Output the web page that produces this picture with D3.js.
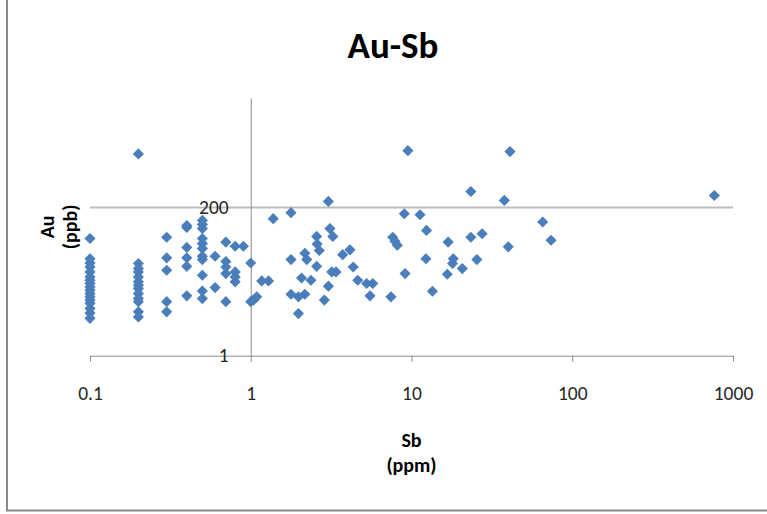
<!DOCTYPE html>
<html>
<head>
<meta charset="utf-8">
<script src="https://cdn.jsdelivr.net/npm/d3@7"></script>
<style>
  body { margin: 0; background: #fff; }
  svg { display: block; }
</style>
</head>
<body>
<div id="chart"></div>
<script>
// Sb (ppm) values, one entry per sample
const sb = [
  0.1, 0.1, 0.1, 0.1, 0.1, 0.1, 0.1, 0.1, 0.1, 0.1, 0.1, 0.1, 0.1, 0.1, 0.1, 0.1, 0.1,
  0.2, 0.2, 0.2, 0.2, 0.2, 0.2, 0.2, 0.2, 0.2, 0.2, 0.2, 0.2, 0.2,
  0.3, 0.3, 0.3, 0.3, 0.3,
  0.4, 0.4, 0.4, 0.4, 0.4, 0.4,
  0.5, 0.5, 0.5, 0.5, 0.5, 0.5, 0.5, 0.5, 0.5, 0.5, 0.5,
  0.6, 0.6,
  0.7, 0.7, 0.7, 0.7, 0.7,
  0.8, 0.8, 0.8, 0.8,
  0.9, 1.0, 1.0, 1.04, 1.09, 1.17, 1.29, 1.38,
  1.78, 1.78, 1.78, 1.98, 1.98, 2.07, 2.17, 2.17, 2.23, 2.37,
  2.57, 2.57, 2.59, 2.67, 2.87, 3.04, 3.04, 3.11, 3.19, 3.24, 3.39,
  3.73, 4.14, 4.34, 4.63, 5.26, 5.52, 5.74,
  7.45, 7.64, 7.89, 8.16, 9.02, 9.12, 9.5,
  11.3, 12.4, 12.3, 13.5, 16.9, 16.7, 18.2, 18.0, 20.7,
  23.4, 23.4, 25.5, 27.5, 37.8, 40, 41, 65.5, 73.8, 765
];

// Au (ppb) values, same order as sb
const au = [
  66, 32, 27.5, 23.8, 20, 16.7, 14.8, 13.2, 11.7, 10.4, 9.2, 8.2, 7.3, 6.5, 5.4, 4.6, 3.8,
  1356, 27, 22.5, 20, 16.7, 14, 12.4, 11, 9.2, 7.7, 6.9, 4.8, 4.0,
  69, 33, 21.2, 6.9, 4.8,
  105, 98, 48, 33, 24.4, 8.5,
  126, 109, 94, 66, 55, 46, 35, 31, 17.7, 10.1, 7.7,
  35, 11.4,
  58, 29, 23.8, 18.8, 6.9,
  50, 20, 16.7, 14,
  50, 27.5, 6.9, 7.3, 8.2, 14.5, 14.5, 134,
  166, 31, 9, 8.2, 4.5, 16.1, 9, 39, 31, 14.8,
  71, 24.4, 54, 43, 7.3, 248, 12, 94, 20, 71, 20,
  37, 44, 23.8, 14.8, 13.2, 8.5, 13.2,
  8.2, 69, 60, 52, 160, 18.8, 1524,
  154, 88, 32, 10, 58, 18.4, 32, 27, 22.5,
  354, 69, 31, 78, 257, 49, 1473, 119, 62, 307
];

const xTicks = [0.1, 1, 10, 100, 1000];
const yTicks = [1, 200];

const width = 767, height = 514;
const plotLeft = 90, plotRight = 733, plotTop = 98, plotBottom = 355.7;
const font = "Carlito, Lato, sans-serif";

const svg = d3.select("#chart").append("svg")
  .attr("width", width)
  .attr("height", height);

// bordo del grafico (solo sinistra e sotto)
svg.append("line")
  .attr("x1", 7).attr("y1", 0).attr("x2", 7).attr("y2", 511)
  .attr("stroke", "#8a8a8a").attr("stroke-width", 2);
svg.append("line")
  .attr("x1", 6).attr("y1", 510.5).attr("x2", width).attr("y2", 510.5)
  .attr("stroke", "#8a8a8a").attr("stroke-width", 2);

const x = d3.scaleLog().domain([0.1, 1000]).range([plotLeft, plotRight]);
const y = d3.scaleLog().base(200).domain([1, 10000]).range([plotBottom, plotTop]);

// gridline a 200
svg.append("g")
  .selectAll("line")
  .data(yTicks.filter(d => d !== 1))
  .enter().append("line")
  .attr("x1", plotLeft).attr("x2", plotRight)
  .attr("y1", d => y(d)).attr("y2", d => y(d))
  .attr("stroke", "#bdbdbd")
  .attr("stroke-width", 2);

// asse x
const xAxis = svg.append("g")
  .attr("transform", `translate(0,${plotBottom})`)
  .call(d3.axisBottom(x).tickValues(xTicks).tickFormat(d => String(d))
    .tickSize(6).tickSizeOuter(0).tickPadding(24));
xAxis.select(".domain").attr("stroke", "#8c8c8c");
xAxis.selectAll(".tick line").attr("stroke", "#8c8c8c");
xAxis.selectAll("text")
  .attr("font-family", font)
  .attr("font-size", 19.5)
  .attr("fill", "#262626");

// asse y (incrocia in x = 1)
const yAxis = svg.append("g")
  .attr("transform", `translate(${x(1)},0)`)
  .call(d3.axisLeft(y).tickValues(yTicks).tickFormat(d => String(d))
    .tickSize(0).tickSizeOuter(0).tickPadding(22));
yAxis.select(".domain").attr("stroke", "#8c8c8c");
yAxis.selectAll("text")
  .attr("font-family", font)
  .attr("font-size", 19.5)
  .attr("fill", "#262626");

// punti
const points = sb.map((v, i) => ({ sb: v, au: au[i] }));
svg.append("g")
  .selectAll("path")
  .data(points)
  .enter().append("path")
  .attr("d", d3.symbol().type(d3.symbolSquare).size(62))
  .attr("transform", d => `translate(${x(d.sb)},${y(d.au)}) rotate(45)`)
  .attr("fill", "#4a7ebb");

// titolo
svg.append("text")
  .attr("x", 393).attr("y", 58)
  .attr("text-anchor", "middle")
  .attr("font-family", font)
  .attr("font-weight", "bold")
  .attr("font-size", 37)
  .attr("fill", "#000")
  .text("Au-Sb");

// titoli assi
const xTitle = svg.append("text")
  .attr("text-anchor", "middle")
  .attr("font-family", font)
  .attr("font-weight", "bold")
  .attr("font-size", 20)
  .attr("fill", "#000");
xTitle.append("tspan").attr("x", (plotLeft + plotRight) / 2).attr("y", 447).text("Sb");
xTitle.append("tspan").attr("x", (plotLeft + plotRight) / 2).attr("y", 472).text("(ppm)");

const yTitle = svg.append("text")
  .attr("transform", `translate(0,${(plotTop + plotBottom) / 2}) rotate(-90)`)
  .attr("text-anchor", "middle")
  .attr("font-family", font)
  .attr("font-weight", "bold")
  .attr("font-size", 20)
  .attr("fill", "#000");
yTitle.append("tspan").attr("x", 0).attr("y", 54).text("Au");
yTitle.append("tspan").attr("x", 0).attr("y", 77).text("(ppb)");
</script>
</body>
</html>
